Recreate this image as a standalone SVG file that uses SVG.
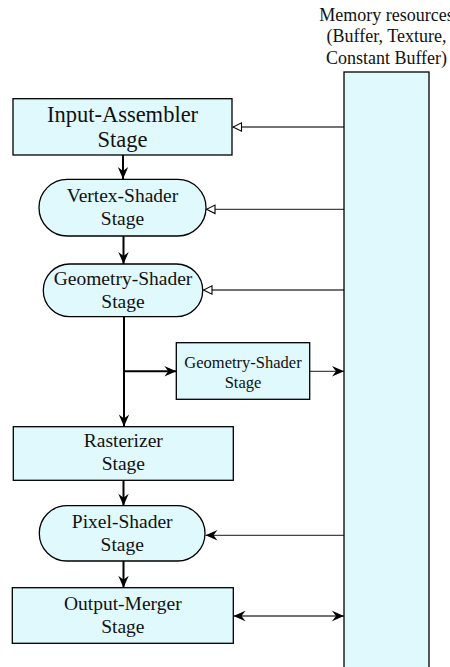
<svg xmlns="http://www.w3.org/2000/svg" width="450" height="667" viewBox="0 0 450 667">
<defs>
<style>
.node{fill:#e0f9fc;stroke:#000;stroke-width:1.3}
.t{font-family:"Liberation Serif","DejaVu Serif","Times New Roman",serif;fill:#111;text-anchor:middle}
.big{font-size:22.5px}
.mid{font-size:19.5px}
.sm{font-size:16.5px}
.mem{font-size:18px}
.v{stroke:#000;stroke-width:2;fill:none}
.h{stroke:#444;stroke-width:1.3;fill:none}
</style>
<marker id="st" viewBox="-13 -7 14 14" refX="0" refY="0" markerWidth="14" markerHeight="14" markerUnits="userSpaceOnUse" orient="auto-start-reverse">
<path d="M0,0 L-12,-5.2 L-8,0 L-12,5.2 Z" fill="#000"/>
</marker>
<marker id="op" viewBox="-10 -6 11 12" refX="0" refY="0" markerWidth="11" markerHeight="12" markerUnits="userSpaceOnUse" orient="auto">
<path d="M0,0 L-8.5,-4.2 L-8.5,4.2 Z" fill="#fff" stroke="#000" stroke-width="1.1"/>
</marker>
</defs>
<rect width="450" height="667" fill="#fff"/>
<g id="connectors">
<line class="v" x1="123" y1="155" x2="123" y2="179" marker-end="url(#st)"/>
<line class="v" x1="123.5" y1="236" x2="123.5" y2="264" marker-end="url(#st)"/>
<line class="v" x1="124" y1="317" x2="124" y2="426.5" marker-end="url(#st)"/>
<line class="v" x1="124" y1="371.3" x2="176.3" y2="371.3" marker-end="url(#st)"/>
<line class="v" x1="123.5" y1="480.3" x2="123.5" y2="505.7" marker-end="url(#st)"/>
<line class="v" x1="123.5" y1="561" x2="123.5" y2="587.7" marker-end="url(#st)"/>
<line class="h" x1="344" y1="127" x2="233" y2="127" marker-end="url(#op)"/>
<line class="h" x1="344" y1="209.3" x2="206.5" y2="209.3" marker-end="url(#op)"/>
<line class="h" x1="344" y1="290" x2="203.5" y2="290" marker-end="url(#op)"/>
<line class="h" x1="310" y1="371.3" x2="344" y2="371.3" marker-end="url(#st)"/>
<line class="h" x1="344" y1="535.3" x2="205.5" y2="535.3" marker-end="url(#st)"/>
<line class="h" x1="233.5" y1="616" x2="344" y2="616" marker-start="url(#st)" marker-end="url(#st)"/>
</g>
<g id="memory">
<rect class="node" x="344" y="72" width="85" height="610"/>
<text class="t mem" x="386.5" y="20.5">Memory resources</text>
<text class="t mem" x="386.5" y="42">(Buffer, Texture,</text>
<text class="t mem" x="386.5" y="63.5">Constant Buffer)</text>
</g>
<g id="input-assembler">
<rect class="node" x="13" y="98.7" width="219" height="56.3"/>
<text class="t big" x="122.5" y="122">Input-Assembler</text>
<text class="t big" x="122.5" y="147">Stage</text>
</g>
<g id="vertex-shader">
<rect class="node" x="39" y="179.3" width="167" height="56.7" rx="28.3"/>
<text class="t mid" x="122.5" y="201.7">Vertex-Shader</text>
<text class="t mid" x="122.5" y="224.5">Stage</text>
</g>
<g id="geometry-shader">
<rect class="node" x="43.3" y="264" width="159.4" height="52.7" rx="26.3"/>
<text class="t mid" x="123" y="285.3">Geometry-Shader</text>
<text class="t mid" x="123" y="308">Stage</text>
</g>
<g id="geometry-shader-2">
<rect class="node" x="176.3" y="342.7" width="133.4" height="56.6"/>
<text class="t sm" x="243" y="368.3">Geometry-Shader</text>
<text class="t sm" x="243" y="387.8">Stage</text>
</g>
<g id="rasterizer">
<rect class="node" x="13.3" y="426.7" width="220" height="53.6"/>
<text class="t mid" x="123.3" y="446.8">Rasterizer</text>
<text class="t mid" x="123.3" y="470">Stage</text>
</g>
<g id="pixel-shader">
<rect class="node" x="39.3" y="505.7" width="165.7" height="55.3" rx="27.6"/>
<text class="t mid" x="122.2" y="527.8">Pixel-Shader</text>
<text class="t mid" x="122.2" y="550.8">Stage</text>
</g>
<g id="output-merger">
<rect class="node" x="12.3" y="587.7" width="221" height="55.6"/>
<text class="t mid" x="122.8" y="610">Output-Merger</text>
<text class="t mid" x="122.8" y="632.8">Stage</text>
</g>
</svg>
